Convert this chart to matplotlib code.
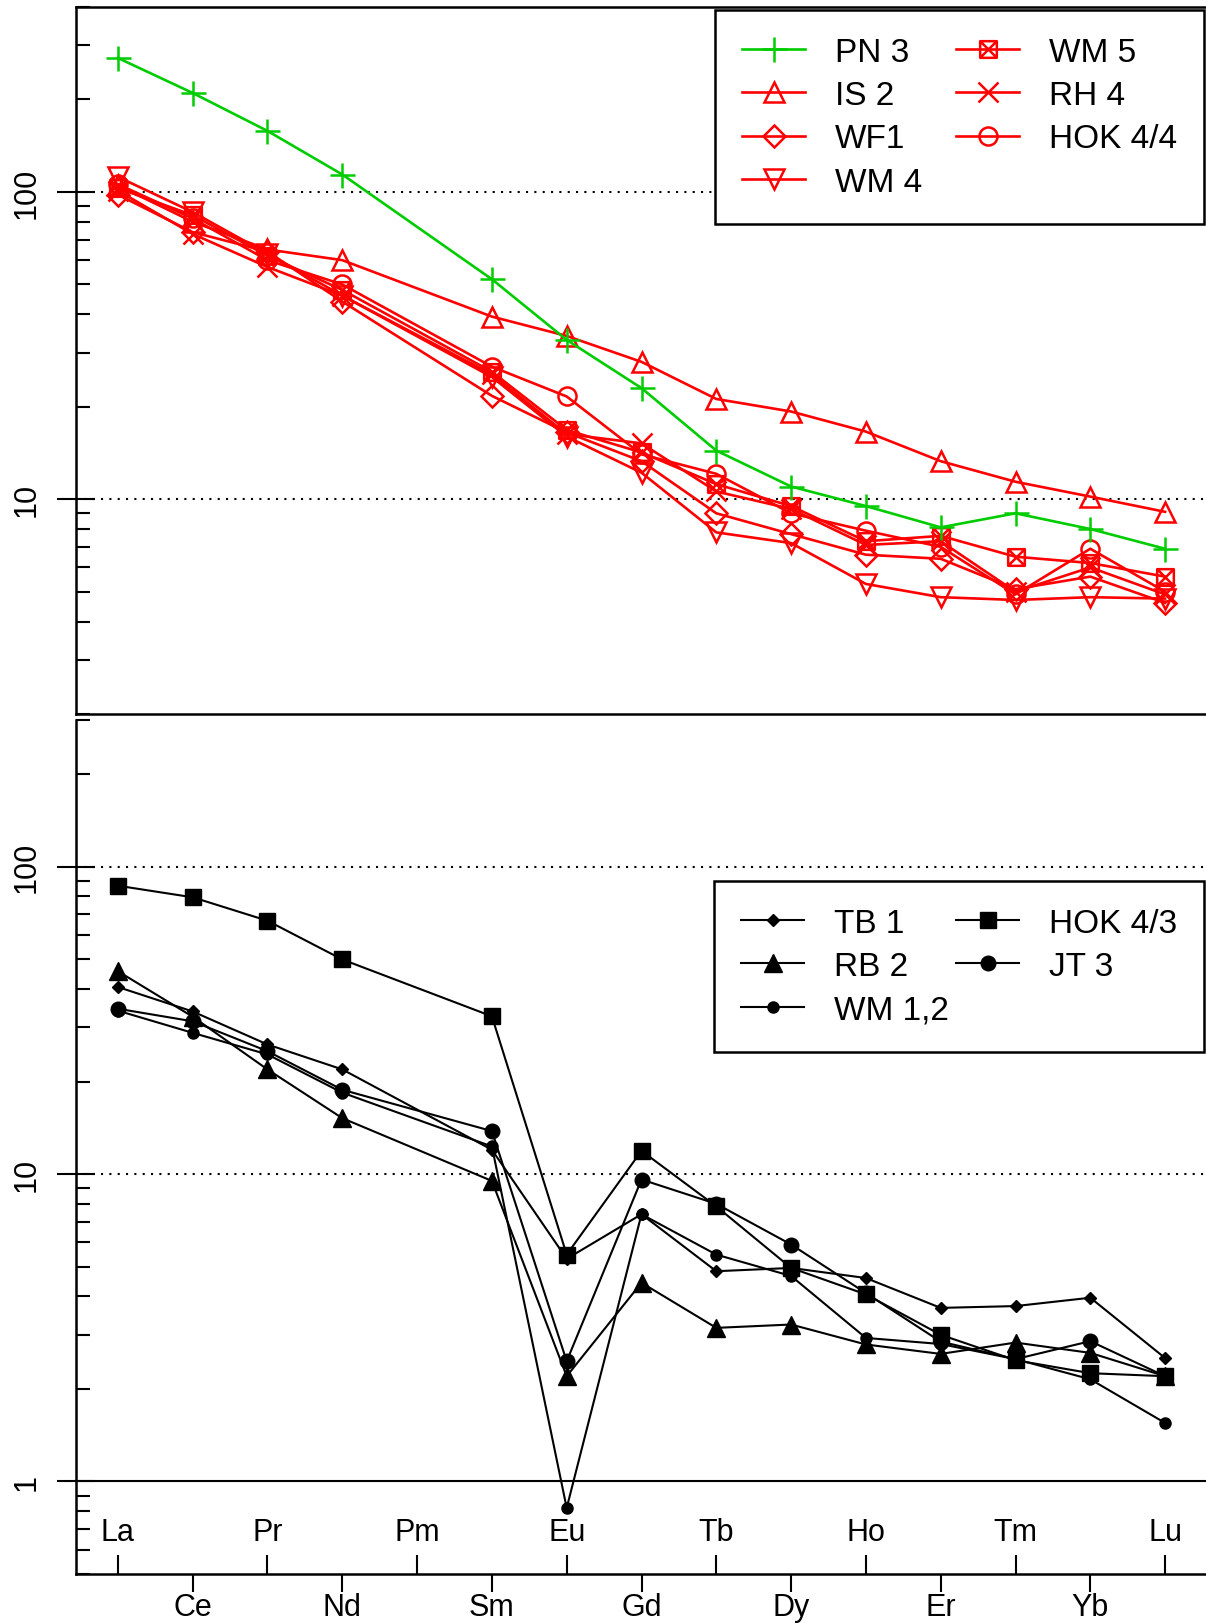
import matplotlib
matplotlib.use("Agg")
import matplotlib.pyplot as plt
import numpy as np
from matplotlib.path import Path
from matplotlib.ticker import LogLocator, NullFormatter

plt.rcParams['font.family'] = ['Liberation Sans', 'DejaVu Sans']

elements = ["La", "Ce", "Pr", "Nd", "Pm", "Sm", "Eu", "Gd",
            "Tb", "Dy", "Ho", "Er", "Tm", "Yb", "Lu"]
measured = ["La", "Ce", "Pr", "Nd", "Sm", "Eu", "Gd",
            "Tb", "Dy", "Ho", "Er", "Tm", "Yb", "Lu"]

# upper panel (chondrite normalised)
pn3   = [273, 210, 158, 114, 52, 33, 23, 14.4, 11.0, 9.5, 8.1, 9.0, 8.0, 6.9]
is2   = [105, 80, 65, 60, 39.3, 34, 28, 21.2, 19.3, 16.6, 13.3, 11.4, 10.2, 9.1]
wf1   = [98, 74, 64, 44, 21.7, 16.5, 13.3, 9.0, 7.7, 6.6, 6.4, 5.1, 5.6, 4.6]
wm4   = [112, 86, 63, 46, 25, 16, 12.2, 7.8, 7.2, 5.3, 4.8, 4.7, 4.8, 4.75]
wm5   = [103, 84, 62, 48, 26, 16.8, 14.2, 11.2, 9.5, 7.3, 7.6, 6.5, 6.2, 5.6]
rh4   = [101, 73, 57, 46, 25.5, 16.3, 15.2, 10.6, 9.3, 7.1, 7.3, 5.0, 6.0, 4.9]
hok44 = [106, 82, 60, 50, 27, 21.6, 14.0, 12.1, 9.0, 7.9, 7.0, 4.9, 6.9, 5.0]

# lower panel
tb1   = [40.6, 33.8, 26.4, 21.9, 12.0, 5.3, 7.4, 4.83, 4.95, 4.59, 3.67, 3.72, 3.96, 2.52]
rb2   = [45.7, 32.5, 21.9, 15.2, 9.5, 2.2, 4.43, 3.16, 3.24, 2.79, 2.6, 2.83, 2.62, 2.2]
wm12  = [34.0, 28.8, 24.5, 18.4, 12.3, 0.82, 7.4, 5.47, 4.66, 2.93, 2.8, 2.5, 2.15, 1.55]
hok43 = [86.7, 79.5, 66.7, 49.9, 32.6, 5.47, 11.9, 7.85, 4.95, 4.06, 3.0, 2.48, 2.25, 2.2]
jt3   = [34.5, 31.4, 25.1, 18.8, 13.8, 2.46, 9.6, 8.0, 5.9, 4.1, 2.85, 2.5, 2.86, 2.2]

x = np.array([elements.index(e) + 1 for e in measured])
xpos = np.arange(1, len(elements) + 1)

RED = "#FF0000"
GREEN = "#00CC00"

# square with a cross inside (R pch 7)
box_x = Path([(-1, -1), (1, -1), (1, 1), (-1, 1), (-1, -1),
              (-1, -1), (1, 1), (-1, 1), (1, -1)],
             [Path.MOVETO, Path.LINETO, Path.LINETO, Path.LINETO, Path.CLOSEPOLY,
              Path.MOVETO, Path.LINETO, Path.MOVETO, Path.LINETO])

fig = plt.figure(figsize=(12.06, 16.24), dpi=100)
W, H = 1206.0, 1624.0
left = 76 / W
width = (1207 - 76) / W
ax1 = fig.add_axes([left, 1 - 715 / H, width, 707 / H])
ax2 = fig.add_axes([left, 1 - 1575 / H, width, 854 / H])

dot = (0, (1, 3))

def style_y(ax, majors, labels, lim):
    ax.set_yscale("log")
    ax.set_yticks(majors)
    ax.set_yticklabels(labels, rotation=90, va="center", fontsize=22)
    ax.yaxis.set_minor_locator(LogLocator(base=10, subs=np.arange(2, 10)))
    ax.yaxis.set_minor_formatter(NullFormatter())
    ax.set_ylim(*lim)
    ax.tick_params(axis="y", which="major", direction="inout", length=27,
                   width=1.5, pad=11)
    ax.tick_params(axis="y", which="minor", direction="in", length=10, width=1.5)

# ---- top panel ----
ax1.set_xlim(0.44, 15.56)
style_y(ax1, [10, 100], ["10", "100"], (2, 400))
ax1.set_xticks([])
for v in (10, 100):
    ax1.axhline(v, color="black", lw=1.5, ls=dot, zorder=1)
for s in ax1.spines.values():
    s.set_linewidth(1.8)

red_kw = dict(color=RED, lw=1.9, mfc="none", mew=1.8)
ax1.plot(x, is2, marker="^", ms=15, label="IS 2", **red_kw)
ax1.plot(x, wf1, marker="D", ms=11.5, label="WF1", **red_kw)
ax1.plot(x, wm4, marker="v", ms=15, label="WM 4", **red_kw)
ax1.plot(x, wm5, marker=box_x, ms=12, label="WM 5", **red_kw)
ax1.plot(x, rh4, marker="x", ms=14, label="RH 4", **red_kw)
ax1.plot(x, hok44, marker="o", ms=13, label="HOK 4/4", **red_kw)
ax1.plot(x, pn3, marker="+", ms=18, color=GREEN, lw=1.9, mew=1.8, label="PN 3")

h, l = ax1.get_legend_handles_labels()
order = ["PN 3", "IS 2", "WF1", "WM 4", "WM 5", "RH 4", "HOK 4/4"]
h = [h[l.index(o)] for o in order]
leg_kw = dict(ncol=2, loc="upper right", fontsize=24, frameon=True, fancybox=False,
              framealpha=1, edgecolor="black", borderaxespad=0, borderpad=0.8,
              handlelength=1.9, handletextpad=0.9,
              labelspacing=0.37, bbox_transform=fig.transFigure)
leg1 = ax1.legend(h, order, bbox_to_anchor=(1204 / W, 1 - 11 / H),
                  columnspacing=1.0, **leg_kw)
leg1.get_frame().set_linewidth(1.8)

# ---- bottom panel ----
ax2.set_xlim(0.44, 15.56)
style_y(ax2, [1, 10, 100], ["1", "10", "100"], (0.5, 300))
for v in (10, 100):
    ax2.axhline(v, color="black", lw=1.5, ls=dot, zorder=1)
ax2.axhline(1, color="black", lw=1.5, zorder=1)
ax2.spines["top"].set_visible(False)
for s in ax2.spines.values():
    s.set_linewidth(1.8)

blk = dict(color="black", lw=1.5)
ax2.plot(x, tb1, marker="D", ms=6.5, label="TB 1", **blk)
ax2.plot(x, rb2, marker="^", ms=13, label="RB 2", **blk)
ax2.plot(x, wm12, marker="o", ms=8, label="WM 1,2", **blk)
ax2.plot(x, hok43, marker="s", ms=11, label="HOK 4/3", **blk)
ax2.plot(x, jt3, marker="o", ms=10.5, label="JT 3", **blk)

lower = xpos[1::2]   # Ce, Nd, Sm ... below the axis
upper = xpos[0::2]   # La, Pr, Pm ... above the axis
ax2.set_xticks(lower)
ax2.set_xticklabels([elements[i - 1] for i in lower], fontsize=22)
ax2.set_xticks(upper, minor=True)
ax2.set_xticklabels([elements[i - 1] for i in upper], minor=True, fontsize=22)
ax2.tick_params(axis="x", which="major", direction="out", length=13, width=1.5, pad=0)
ax2.tick_params(axis="x", which="minor", direction="in", length=14, width=1.5, pad=-41)

leg2 = ax2.legend(bbox_to_anchor=(1204 / W, 1 - 882 / H), columnspacing=0.2, **leg_kw)
leg2.get_frame().set_linewidth(1.8)

fig.savefig("out.png", dpi=100)
